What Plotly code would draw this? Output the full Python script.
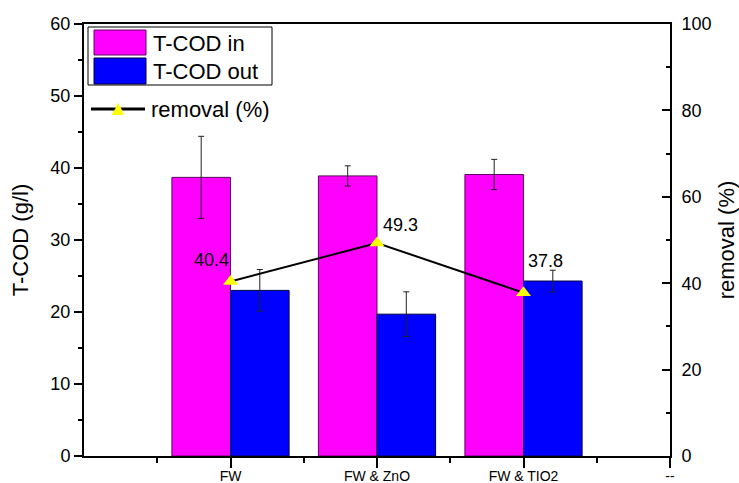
import plotly.graph_objects as go

categories = ["FW", "FW & ZnO", "FW & TIO2"]
extra_tick = "--"
tcod_in = [38.7, 38.9, 39.1]
tcod_in_err = [5.7, 1.4, 2.1]
tcod_out = [23.0, 19.7, 24.3]
tcod_out_err = [2.9, 3.1, 1.5]
removal = [40.4, 49.3, 37.8]
removal_labels = ["40.4", "49.3", "37.8"]

FONT = "Liberation Sans, Arial, sans-serif"
xpos = list(range(1, len(categories) + 1))

fig = go.Figure()
fig.add_trace(go.Bar(
    x=xpos, y=tcod_in, name="T-COD in",
    marker=dict(color="#FF00FF", line=dict(color="#5a0a5a", width=1)),
    error_y=dict(type="data", array=tcod_in_err, color="#222222", thickness=1, width=3),
    showlegend=False,
))
fig.add_trace(go.Bar(
    x=xpos, y=tcod_out, name="T-COD out",
    marker=dict(color="#0000FF", line=dict(color="#000040", width=1)),
    error_y=dict(type="data", array=tcod_out_err, color="#222222", thickness=1, width=3),
    showlegend=False,
))
fig.add_trace(go.Scatter(
    x=xpos, y=removal, name="removal (%)", yaxis="y2",
    mode="lines+markers",
    line=dict(color="black", width=2),
    marker=dict(symbol="triangle-up", size=13, color="#FFFF00", line=dict(width=0)),
    showlegend=False,
))

# data labels for removal
label_style = [
    dict(xanchor="right", xshift=0, yshift=21),
    dict(xanchor="left", xshift=4, yshift=18),
    dict(xanchor="left", xshift=2, yshift=32),
]
for xv, yv, t, st in zip(xpos, removal, removal_labels, label_style):
    fig.add_annotation(x=xv, y=yv, xref="x", yref="y2", text=t, showarrow=False,
                       yanchor="middle", font=dict(size=18, color="black", family=FONT), **st)

# custom legend (pixel-positioned in paper coords)
W, H = 739, 483
L, R, T, B = 84, 69, 24, 27
pw, ph = W - L - R, H - T - B

def px(xp):
    return (xp - L) / pw

def py(yp):
    return 1 - (yp - T) / ph

fig.add_shape(type="rect", xref="paper", yref="paper", x0=px(88), x1=px(272), y0=py(27), y1=py(85),
              line=dict(color="black", width=1), fillcolor="white", layer="above")
fig.add_shape(type="rect", xref="paper", yref="paper", x0=px(94), x1=px(146), y0=py(30), y1=py(55),
              line=dict(color="#5a0a5a", width=1), fillcolor="#FF00FF", layer="above")
fig.add_shape(type="rect", xref="paper", yref="paper", x0=px(94), x1=px(146), y0=py(58), y1=py(84),
              line=dict(color="#000040", width=1), fillcolor="#0000FF", layer="above")
fig.add_annotation(xref="paper", yref="paper", x=px(151), y=py(43), text="T-COD in", showarrow=False,
                   xanchor="left", yanchor="middle", font=dict(size=22, color="black", family=FONT))
fig.add_annotation(xref="paper", yref="paper", x=px(151), y=py(71), text="T-COD out", showarrow=False,
                   xanchor="left", yanchor="middle", font=dict(size=22, color="black", family=FONT))
fig.add_shape(type="line", xref="paper", yref="paper", x0=px(91), x1=px(145), y0=py(109), y1=py(109),
              line=dict(color="black", width=3), layer="above")
fig.add_annotation(xref="paper", yref="paper", x=px(118), y=py(108), text="▲", showarrow=False,
                   xanchor="center", yanchor="middle", font=dict(size=16, color="#FFFF00", family="DejaVu Sans"))
fig.add_annotation(xref="paper", yref="paper", x=px(149), y=py(109), text="removal (%)", showarrow=False,
                   xanchor="left", yanchor="middle", font=dict(size=22, color="black", family=FONT))

fig.update_layout(
    width=W, height=H,
    margin=dict(l=L, r=R, t=T, b=B),
    paper_bgcolor="white", plot_bgcolor="white",
    font=dict(family=FONT, color="black"),
    barmode="group", bargap=0.2, bargroupgap=0,
    xaxis=dict(
        range=[0, len(categories) + 1],
        tickmode="array", tickvals=xpos + [len(categories) + 1],
        ticktext=categories + [extra_tick],
        ticks="outside", ticklen=10, tickwidth=1.5, tickcolor="black",
        minor=dict(tickmode="array", tickvals=[0.5 + i for i in range(len(categories) + 1)],
                   ticks="outside", ticklen=5, tickwidth=1.5, tickcolor="black"),
        showline=True, linecolor="black", linewidth=2, mirror=True,
        showgrid=False, zeroline=False, automargin=False,
        tickfont=dict(size=14), ticklabelstandoff=-4,
    ),
    yaxis=dict(
        range=[0, 60], dtick=10, ticks="outside", ticklen=8, tickwidth=1.5, tickcolor="black",
        minor=dict(dtick=5, ticks="outside", ticklen=4, tickwidth=1.5, tickcolor="black"),
        showline=True, linecolor="black", linewidth=2,
        showgrid=False, zeroline=False, automargin=False,
        tickfont=dict(size=18),
        title=dict(text="T-COD (g/l)", font=dict(size=22), standoff=16),
    ),
    yaxis2=dict(
        range=[0, 100], dtick=20, overlaying="y", side="right",
        ticks="inside", ticklen=8, tickwidth=1.5, tickcolor="black",
        minor=dict(dtick=10, ticks="inside", ticklen=4, tickwidth=1.5, tickcolor="black"),
        showline=True, linecolor="black", linewidth=2,
        showgrid=False, zeroline=False, automargin=False,
        tickfont=dict(size=18), ticklabelstandoff=6,
        title=dict(text="removal (%)", font=dict(size=22), standoff=8),
    ),
)

fig.write_html("out.html")
